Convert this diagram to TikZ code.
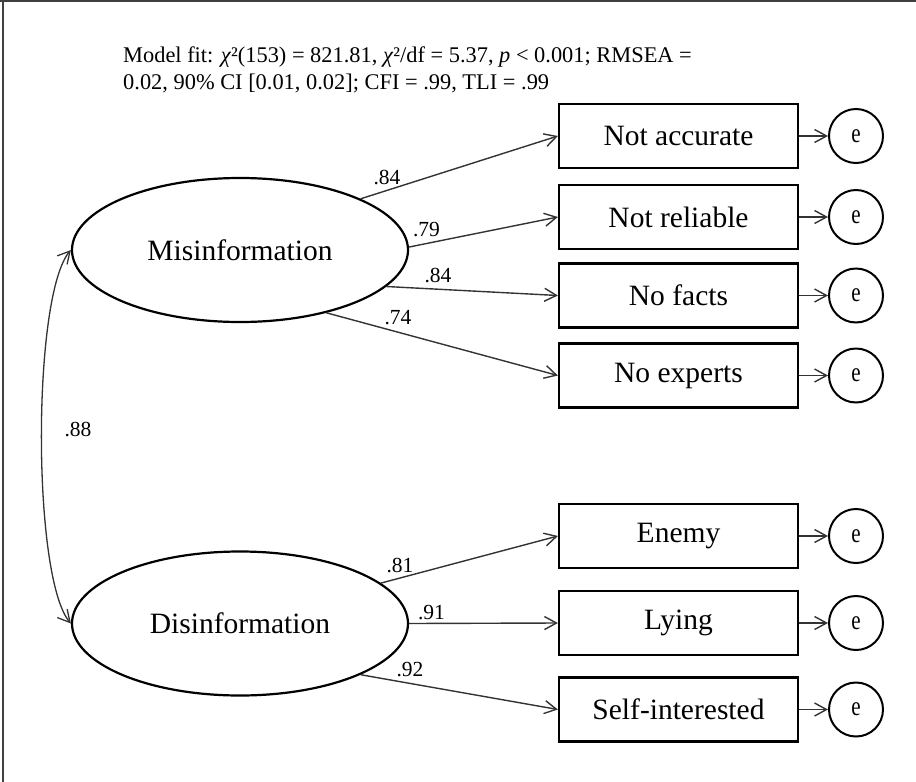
\documentclass[tikz,border=0pt]{standalone}
\usepackage{fontspec}
\usepackage{graphicx}
\setmainfont{Liberation Serif}
\usetikzlibrary{arrows.meta,shapes.geometric}
\tikzset{
  latent/.style={ellipse, draw, line width=2.2pt, minimum width=336pt, minimum height=144pt, inner sep=0pt, font=\fontsize{29.5}{34}\selectfont},
  indicator/.style={rectangle, draw, line width=2.2pt, minimum width=239pt, minimum height=64pt, inner sep=0pt, font=\fontsize{29.5}{34}\selectfont},
  errorterm/.style={circle, draw, line width=2pt, minimum size=54pt, inner sep=0pt, font=\fontsize{21}{24}\selectfont},
  patharrow/.style={draw=black!80, line width=1.4pt, -{Straight Barb[length=12pt,width=13pt,line width=1.4pt]}},
  covarrow/.style={draw=black!80, line width=1.3pt, {Straight Barb[length=12pt,width=13pt,line width=1.3pt]}-{Straight Barb[length=12pt,width=13pt,line width=1.3pt]}},
  loading/.style={font=\fontsize{21.5}{24}\selectfont, inner sep=0pt},
  fittext/.style={anchor=base west, inner sep=0pt, font=\fontsize{22.4}{26}\selectfont},
}
\newcommand{\errlabel}{\scalebox{1}[1.3]{e}}
\begin{document}
\begin{tikzpicture}[x=1pt,y=-1pt]
\useasboundingbox (0,0) rectangle (916,782);
% frame lines (top and left)
\draw[black!75, line width=1.5pt] (0,1) -- (916,1);
\draw[black!75, line width=1.5pt] (3,0) -- (3,782);

% model fit text
\node[fittext] (fit1) at (123,62) {Model fit: \textit{χ}²(153) = 821.81, \textit{χ}²/df = 5.37, \textit{p} < 0.001; RMSEA =};
\node[fittext] (fit2) at (123,89) {0.02, 90\% CI [0.01, 0.02]; CFI = .99, TLI = .99};

% latent variables
\node[latent] (mis) at (240,250) {Misinformation};
\node[latent] (dis) at (240,623.5) {Disinformation};

% indicators
\node[indicator] (na) at (678.5,136) {Not accurate};
\node[indicator] (nr) at (678.5,217) {Not reliable};
\node[indicator] (nf) at (678.5,295.5) {No facts};
\node[indicator] (ne) at (678.5,375.5) {No experts};
\node[indicator] (en) at (678.5,536) {Enemy};
\node[indicator] (ly) at (678.5,623) {Lying};
\node[indicator] (si) at (678.5,709.5) {Self-interested};

% error terms
\node[errorterm] (ena) at (856,136) {\errlabel};
\node[errorterm] (enr) at (856,217) {\errlabel};
\node[errorterm] (enf) at (856,295.5) {\errlabel};
\node[errorterm] (ene) at (856,375.5) {\errlabel};
\node[errorterm] (een) at (856,536) {\errlabel};
\node[errorterm] (ely) at (856,623) {\errlabel};
\node[errorterm] (esi) at (856,709.5) {\errlabel};

% loadings
\draw[patharrow] (mis.23) -- (na.west);
\draw[patharrow] (mis.1) -- (nr.west);
\draw[patharrow] (mis.-14) -- (nf.west);
\draw[patharrow] (mis.-36) -- (ne.west);
\draw[patharrow] (dis.16) -- (en.west);
\draw[patharrow] (dis.0) -- (ly.west);
\draw[patharrow] (dis.-23) -- (si.west);

% error arrows
\foreach \b/\e in {na/ena, nr/enr, nf/enf, ne/ene, en/een, ly/ely, si/esi}{
  \draw[patharrow] (\b.east) -- (\e.west);
}

% covariance
\draw[covarrow] (mis.west) .. controls (32,295) and (32,578) .. (dis.west);

% loading labels
\node[loading] (l1) at (387,177.5) {.84};
\node[loading] (l2) at (426.5,229.5) {.79};
\node[loading] (l3) at (438,275.5) {.84};
\node[loading] (l4) at (398,317.5) {.74};
\node[loading] (l5) at (400,565) {.81};
\node[loading] (l6) at (431.5,613) {.91};
\node[loading] (l7) at (410,670) {.92};
\node[loading] (l8) at (78,429) {.88};
\end{tikzpicture}
\end{document}
